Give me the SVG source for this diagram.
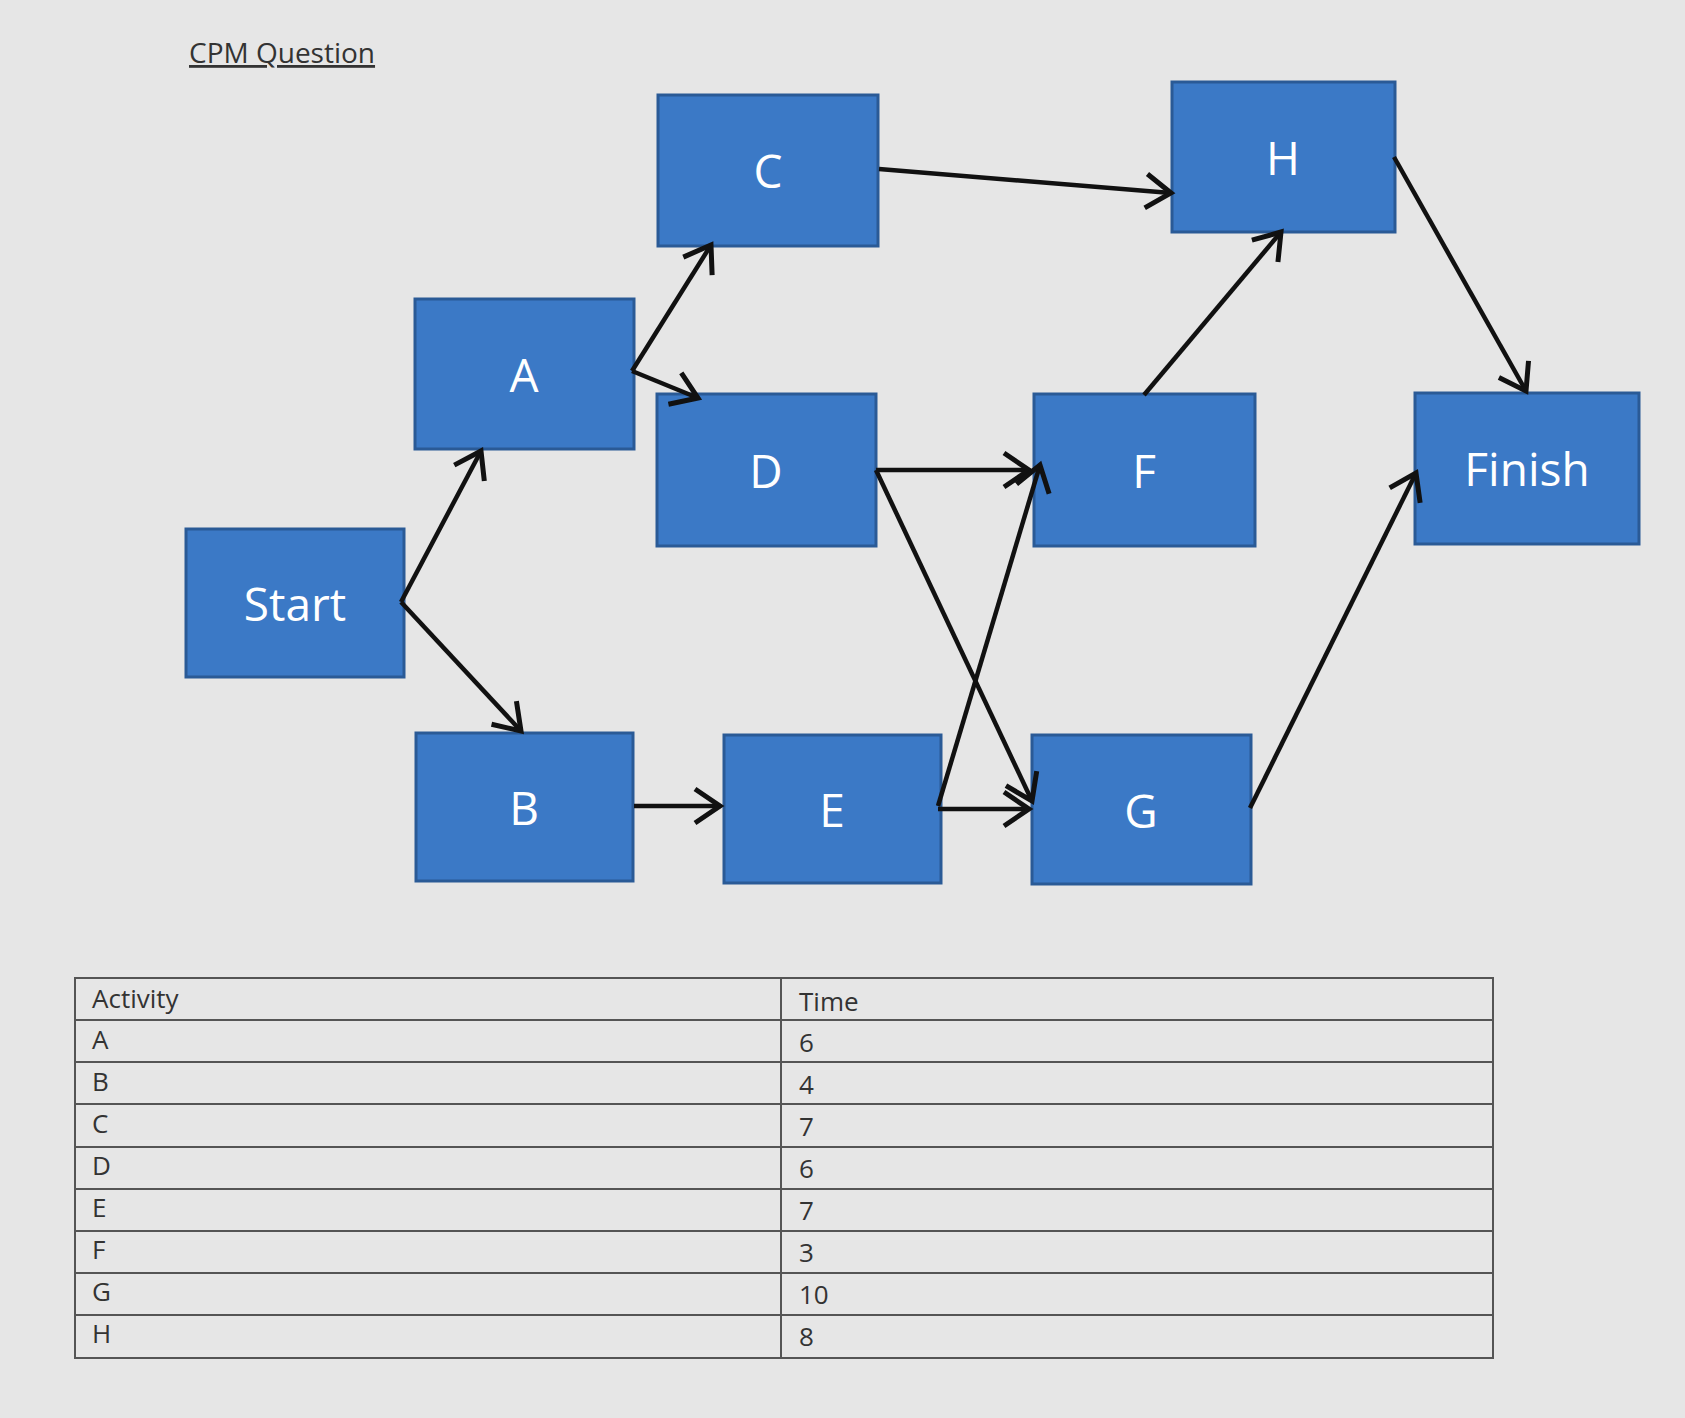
<svg xmlns="http://www.w3.org/2000/svg" width="1685" height="1418" viewBox="0 0 1685 1418">
<style>
.n rect{fill:#3b79c6;stroke:#2a5a96;stroke-width:3}
.n text{fill:#fff;font-family:"Open Sans","Liberation Sans",sans-serif;font-size:46px;text-anchor:middle;dominant-baseline:central}
.c line{stroke:#111;stroke-width:4.5;marker-end:url(#ah)}
.t text{font-family:"Open Sans","Liberation Sans",sans-serif;font-size:26px;fill:#333}
.t line,.t rect{stroke:#555;stroke-width:2;fill:none}
</style>
<defs>
<marker id="ah" viewBox="0 0 12 12" refX="11" refY="6" markerWidth="12" markerHeight="12" orient="auto" markerUnits="userSpaceOnUse" style="overflow:visible">
<path d="M-14,-11 L11,6 L-14,23" fill="none" stroke="#111" stroke-width="5"/>
</marker>
</defs>
<rect width="1685" height="1418" fill="#e6e6e6"/>
<text x="189" y="63" font-family="Open Sans,Liberation Sans,sans-serif" font-size="28" fill="#333" text-decoration="underline">CPM Question</text>
<g id="start" class="n"><rect x="186" y="529" width="218" height="148"/><text x="295" y="603">Start</text></g>
<g id="a" class="n"><rect x="415" y="299" width="219" height="150"/><text x="524" y="374">A</text></g>
<g id="b" class="n"><rect x="416" y="733" width="217" height="148"/><text x="524" y="807">B</text></g>
<g id="c" class="n"><rect x="658" y="95" width="220" height="151"/><text x="768" y="170">C</text></g>
<g id="d" class="n"><rect x="657" y="394" width="219" height="152"/><text x="766" y="470">D</text></g>
<g id="e" class="n"><rect x="724" y="735" width="217" height="148"/><text x="832" y="809">E</text></g>
<g id="h" class="n"><rect x="1172" y="82" width="223" height="150"/><text x="1283" y="157">H</text></g>
<g id="f" class="n"><rect x="1034" y="394" width="221" height="152"/><text x="1144" y="470">F</text></g>
<g id="g" class="n"><rect x="1032" y="735" width="219" height="149"/><text x="1141" y="810">G</text></g>
<g id="finish" class="n"><rect x="1415" y="393" width="224" height="151"/><text x="1527" y="468">Finish</text></g>
<g class="c">
<line x1="401" y1="602" x2="481" y2="451"/>
<line x1="401" y1="602" x2="521" y2="731"/>
<line x1="632" y1="371" x2="711" y2="245"/>
<line x1="632" y1="371" x2="698" y2="398"/>
<line x1="879" y1="169" x2="1171" y2="193"/>
<line x1="634" y1="806" x2="720" y2="806"/>
<line x1="876" y1="470" x2="1029" y2="470"/>
<line x1="876" y1="470" x2="1032" y2="801"/>
<line x1="938" y1="806" x2="1040" y2="465"/>
<line x1="938" y1="809" x2="1029" y2="809"/>
<line x1="1144" y1="395" x2="1281" y2="232"/>
<line x1="1394" y1="157" x2="1526" y2="391"/>
<line x1="1250" y1="808" x2="1416" y2="473"/>
</g>
<g class="t">
<rect x="75" y="978" width="1418" height="380" fill="#ececec"/>
<line x1="781" y1="978" x2="781" y2="1358"/>
<line x1="75" y1="1020" x2="1493" y2="1020"/>
<line x1="75" y1="1062" x2="1493" y2="1062"/>
<line x1="75" y1="1104" x2="1493" y2="1104"/>
<line x1="75" y1="1147" x2="1493" y2="1147"/>
<line x1="75" y1="1189" x2="1493" y2="1189"/>
<line x1="75" y1="1231" x2="1493" y2="1231"/>
<line x1="75" y1="1273" x2="1493" y2="1273"/>
<line x1="75" y1="1315" x2="1493" y2="1315"/>
<text x="92" y="1008">Activity</text><text x="799" y="1011">Time</text>
<text x="92" y="1049">A</text><text x="799" y="1052">6</text>
<text x="92" y="1091">B</text><text x="799" y="1094">4</text>
<text x="92" y="1133">C</text><text x="799" y="1136">7</text>
<text x="92" y="1175">D</text><text x="799" y="1178">6</text>
<text x="92" y="1217">E</text><text x="799" y="1220">7</text>
<text x="92" y="1259">F</text><text x="799" y="1262">3</text>
<text x="92" y="1301">G</text><text x="799" y="1304">10</text>
<text x="92" y="1343">H</text><text x="799" y="1346">8</text>
</g>
</svg>
